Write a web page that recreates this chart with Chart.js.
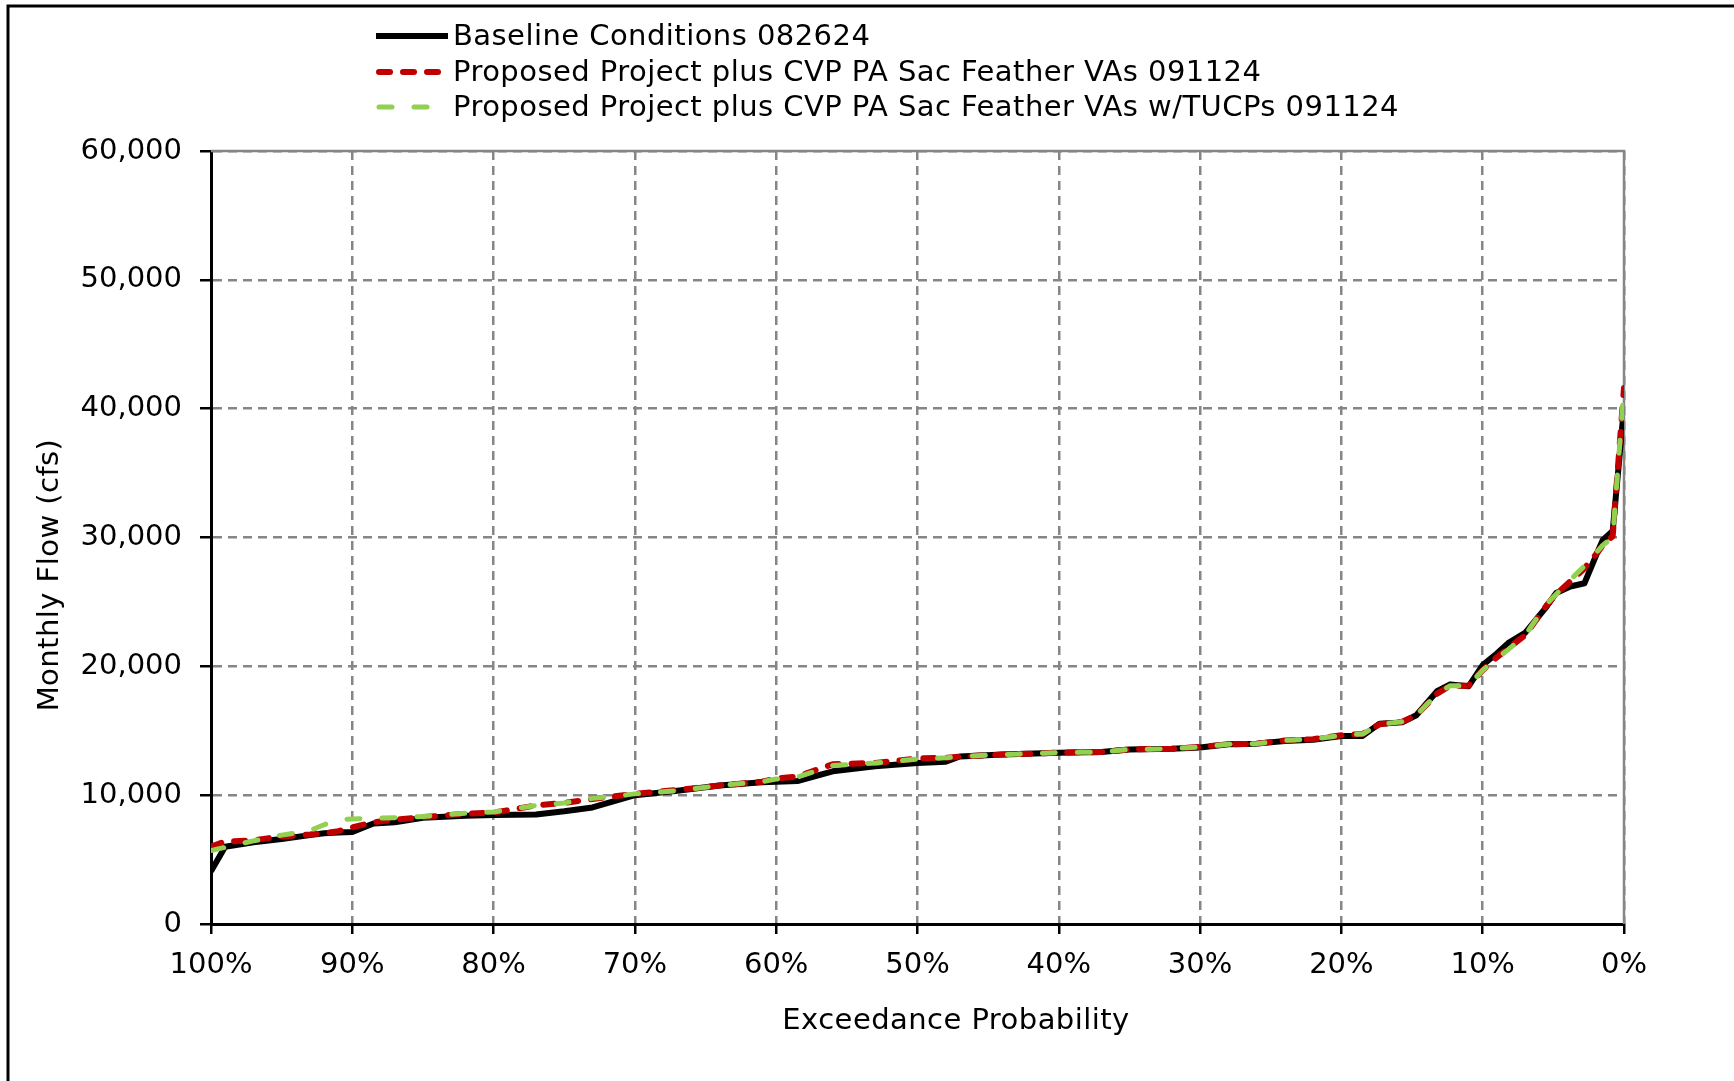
<!DOCTYPE html>
<html>
<head>
<meta charset="utf-8">
<title>Monthly Flow Exceedance</title>
<script src="https://cdn.jsdelivr.net/npm/chart.js@4.4.1/dist/chart.umd.min.js"></script>
<style>
  html, body { margin: 0; padding: 0; background: #ffffff; }
  #wrap { position: relative; width: 1734px; height: 1081px; }
</style>
</head>
<body>
<div id="wrap"><canvas id="chart" width="1734" height="1081"></canvas></div>
<script>
// Exceedance probability (%) of each plotted point
const exceedance = [100, 99, 97, 95, 93, 92, 91, 90, 88.5, 87, 85, 82, 80, 77, 75, 73, 70, 67, 64, 61,
  60, 58.5, 56, 53, 50, 48, 47, 44, 40, 37, 35, 32, 30, 28, 26, 24, 22, 20, 18.5, 17.3,
  15.7, 14.7, 13.2, 12.3, 11, 10, 9, 8.2, 7, 5.5, 4.8, 3.8, 2.8, 1.9, 1.5, 0.8, 0];

// Monthly flow (cfs) for each scenario
const baselineFlow = [4100, 6000, 6350, 6600, 6900, 7050, 7100, 7150, 7800, 7900, 8250, 8400, 8460, 8500, 8750, 9050, 10000, 10350, 10750, 11000,
  11050, 11100, 11850, 12250, 12500, 12600, 13000, 13150, 13300, 13350, 13550, 13600, 13700, 13950, 14000, 14200, 14300, 14600, 14600, 15550,
  15650, 16200, 18100, 18600, 18450, 20100, 21000, 21800, 22600, 24600, 25700, 26200, 26450, 28800, 29800, 30500, 40100];

const proposedFlow = [6000, 6400, 6500, 6800, 6950, 7050, 7200, 7500, 7900, 8100, 8300, 8550, 8650, 9200, 9400, 9700, 10100, 10400, 10750, 11050,
  11300, 11450, 12400, 12500, 12850, 12900, 13000, 13150, 13300, 13350, 13550, 13600, 13750, 13950, 14000, 14250, 14350, 14650, 14750, 15500,
  15700, 16200, 17900, 18500, 18500, 19700, 20700, 21400, 22400, 24700, 25600, 26600, 27600, 28800, 29400, 30100, 41600];

const tucpFlow = [5700, 5950, 6450, 6900, 7250, 7700, 8100, 8150, 8200, 8250, 8350, 8600, 8700, 9200, 9400, 9750, 10100, 10350, 10750, 11050,
  11250, 11400, 12300, 12500, 12800, 12900, 13000, 13150, 13300, 13350, 13550, 13600, 13750, 13950, 14000, 14250, 14350, 14650, 14750, 15500,
  15700, 16200, 17900, 18500, 18500, 19700, 20600, 21300, 22400, 24800, 25600, 26700, 27800, 28900, 29400, 30000, 41600];

const seriesNames = [
  'Baseline Conditions 082624',
  'Proposed Project plus CVP PA Sac Feather VAs 091124',
  'Proposed Project plus CVP PA Sac Feather VAs w/TUCPs 091124'
];

const xTitle = 'Exceedance Probability';
const yTitle = 'Monthly Flow (cfs)';

const FONT = '"DejaVu Sans", Verdana, sans-serif';

function toPoints(xs, ys) {
  return xs.map((x, i) => ({ x: x, y: ys[i] }));
}

const lineStyles = [
  { color: '#000000', width: 6, dash: [], cap: 'butt' },
  { color: '#C00000', width: 6, dash: [11, 13], cap: 'round' },
  { color: '#92D050', width: 5, dash: [13, 22], cap: 'round' }
];

// Outer frame, solid plot edges, axis titles and the legend block
const decorations = {
  id: 'decorations',
  beforeDraw(chart) {
    const ctx = chart.ctx;
    ctx.save();
    ctx.fillStyle = '#ffffff';
    ctx.fillRect(0, 0, chart.width, chart.height);
    ctx.restore();
  },
  beforeDatasetsDraw(chart) {
    const { ctx, chartArea } = chart;
    ctx.save();
    ctx.strokeStyle = '#868686';
    ctx.lineWidth = 2.5;
    ctx.setLineDash([]);
    ctx.beginPath();
    ctx.moveTo(chartArea.left, chartArea.top);
    ctx.lineTo(chartArea.right, chartArea.top);
    ctx.lineTo(chartArea.right, chartArea.bottom);
    ctx.stroke();
    ctx.restore();
  },
  afterDraw(chart) {
    const ctx = chart.ctx;
    ctx.save();
    // frame
    ctx.strokeStyle = '#000000';
    ctx.lineWidth = 3;
    ctx.beginPath();
    ctx.moveTo(8, chart.height);
    ctx.lineTo(8, 6);
    ctx.lineTo(chart.width, 6);
    ctx.stroke();

    ctx.font = '29px ' + FONT;
    ctx.fillStyle = '#000000';
    ctx.textBaseline = 'middle';
    ctx.letterSpacing = '0.45px';

    // axis titles
    ctx.textAlign = 'center';
    ctx.fillText(xTitle, 956, 1021);
    ctx.save();
    ctx.translate(50, 575);
    ctx.rotate(-Math.PI / 2);
    ctx.fillText(yTitle, 0, 0);
    ctx.restore();

    // legend
    const rows = [36, 72, 107];
    ctx.textAlign = 'left';
    seriesNames.forEach((name, i) => {
      const st = lineStyles[i];
      ctx.strokeStyle = st.color;
      ctx.lineWidth = st.width;
      ctx.lineCap = st.cap;
      ctx.setLineDash(st.dash);
      ctx.beginPath();
      ctx.moveTo(i === 0 ? 376 : 379, rows[i]);
      ctx.lineTo(i === 0 ? 448 : 446, rows[i]);
      ctx.stroke();
      ctx.setLineDash([]);
      ctx.fillText(name, 453, rows[i] + 1);
    });
    ctx.restore();
  }
};

const datasets = [baselineFlow, proposedFlow, tucpFlow].map((vals, i) => ({
  label: seriesNames[i],
  data: toPoints(exceedance, vals),
  borderColor: lineStyles[i].color,
  backgroundColor: lineStyles[i].color,
  borderWidth: lineStyles[i].width,
  borderDash: lineStyles[i].dash,
  borderCapStyle: lineStyles[i].cap,
  borderJoinStyle: 'round',
  pointRadius: 0,
  tension: 0,
  fill: false,
  order: 3 - i
}));

new Chart(document.getElementById('chart'), {
  type: 'line',
  data: { datasets },
  options: {
    responsive: false,
    animation: false,
    layout: { padding: { left: 0, top: 151, right: 110, bottom: 0 } },
    plugins: { legend: { display: false }, tooltip: { enabled: false } },
    scales: {
      x: {
        type: 'linear',
        reverse: true,
        min: 0,
        max: 100,
        ticks: {
          stepSize: 10,
          autoSkip: false,
          maxRotation: 0,
          padding: 14,
          color: '#000000',
          font: { family: FONT, size: 29 },
          callback: v => v + '%'
        },
        grid: { color: '#868686', lineWidth: 2.5, tickLength: 10, tickColor: '#000000', tickWidth: 2.5 },
        border: { color: '#000000', width: 3, dash: [9, 6] },
        title: { display: false },
        afterFit: s => { s.height = 157; }
      },
      y: {
        type: 'linear',
        min: 0,
        max: 60000,
        ticks: {
          stepSize: 10000,
          padding: 18,
          color: '#000000',
          font: { family: FONT, size: 29 },
          callback: v => v.toLocaleString('en-US')
        },
        grid: { color: '#868686', lineWidth: 2.5, tickLength: 11, tickColor: '#000000', tickWidth: 2.5 },
        border: { color: '#000000', width: 3, dash: [9, 6] },
        title: { display: false },
        afterFit: s => { s.width = 211; }
      }
    }
  },
  plugins: [decorations]
});
</script>
</body>
</html>
